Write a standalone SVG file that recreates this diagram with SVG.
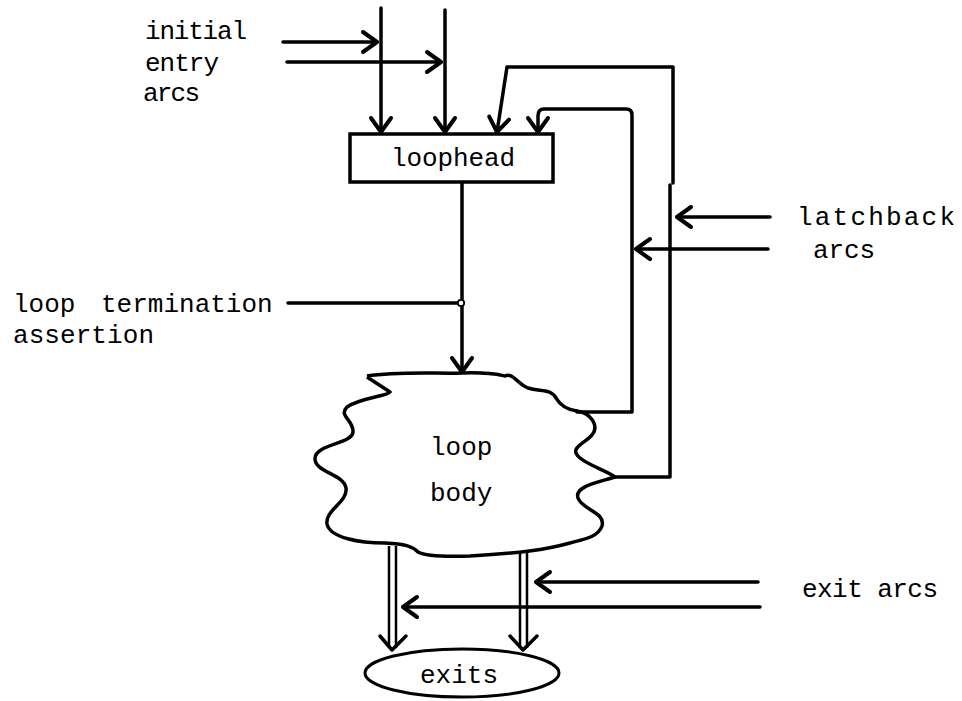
<svg xmlns="http://www.w3.org/2000/svg" width="962" height="701" viewBox="0 0 962 701">
<defs>
<style>
.ln{fill:none;stroke:#000;stroke-width:3.5;stroke-linecap:round;stroke-linejoin:round}
.thin{fill:none;stroke:#000;stroke-width:2.5}
.tx{font-family:"Liberation Mono","DejaVu Sans Mono",monospace;font-size:26px;fill:#000}
</style>
<marker id="ah" markerUnits="userSpaceOnUse" orient="auto" overflow="visible" markerWidth="20" markerHeight="24" refX="0" refY="0">
<path d="M-14,-10 L0,0 L-14,10" fill="none" stroke="#000" stroke-width="4" stroke-linecap="round" stroke-linejoin="round"/>
</marker>
</defs>
<rect width="962" height="701" fill="#fff"/>

<g id="connectors">
<path class="ln" d="M381,8 L381,132" marker-end="url(#ah)"/>
<path class="ln" d="M445,10 L445,132" marker-end="url(#ah)"/>
<path class="ln" d="M283,42 L377,42" marker-end="url(#ah)"/>
<path class="ln" d="M287,62 L441,62" marker-end="url(#ah)"/>
<path class="ln" d="M615,477 L670,477 L670,185 M673,183 L673,67 L507,67 L497,132" marker-end="url(#ah)"/>
<path class="ln" d="M577,412 L632,412 L632,115 Q632,109 626,109 L544,109 Q538,109 538,116 L538,132" marker-end="url(#ah)"/>
<path class="ln" d="M770,217 L677,217" marker-end="url(#ah)"/>
<path class="ln" d="M768,249 L636,249" marker-end="url(#ah)"/>
<path class="ln" d="M462,182 L462,372" marker-end="url(#ah)"/>
<path class="ln" d="M288,303 L458,303"/>
<circle cx="461" cy="303" r="3.2" fill="#fff" stroke="#000" stroke-width="1.8"/>
<path class="thin" d="M389,546 L389,648 M396,546 L396,648"/>
<path class="thin" d="M520,552 L520,648 M527,552 L527,648"/>
<path class="ln" d="M380,636 L392,650 L406,636"/>
<path class="ln" d="M510,636 L523,650 L537,636"/>
<path class="ln" d="M758,582 L536,582" marker-end="url(#ah)"/>
<path class="ln" d="M760,607 L403,607" marker-end="url(#ah)"/>
</g>

<g id="loophead">
<rect x="350" y="134" width="203" height="48" fill="#fff" stroke="#000" stroke-width="3.5"/>
<text class="tx" x="391" y="166" textLength="124">loophead</text>
</g>

<g id="loop-body">
<path fill="none" stroke="#000" stroke-width="3.5" stroke-linejoin="round" d="M367,376 C400,371 440,374 462,373 C490,372 500,375 505,376 C512,372 518,384 528,388 C540,392 550,388 556,398 C562,408 570,410 577,411 C590,413 600,425 592,435 C584,444 568,448 580,458 C590,466 605,470 615,477 C600,482 574,486 578,498 C582,510 606,512 602,526 C598,537 585,539 570,543 C545,550 520,553 470,556 C440,557 425,556 418,552 C412,546 405,544 385,543 C360,543 330,538 327,524 C325,510 348,502 346,488 C344,474 314,472 315,458 C316,444 352,444 353,432 C354,420 338,416 347,407 C360,398 388,396 390,392 L367,377"/>
<text class="tx" x="430" y="455">loop</text>
<text class="tx" x="430" y="501">body</text>
</g>

<g id="exits">
<ellipse cx="462" cy="673" rx="97" ry="24" fill="#fff" stroke="#000" stroke-width="3"/>
<text class="tx" x="420" y="683" textLength="78">exits</text>
</g>

<g id="labels">
<text class="tx" x="145" y="39" textLength="102">initial</text>
<text class="tx" x="145" y="71" textLength="74">entry</text>
<text class="tx" x="143" y="101" textLength="57">arcs</text>
<text class="tx" x="797" y="225" textLength="158">latchback</text>
<text class="tx" x="813" y="258" textLength="62">arcs</text>
<text class="tx" x="13" y="312" word-spacing="10">loop termination</text>
<text class="tx" x="13" y="343" textLength="141">assertion</text>
<text class="tx" x="802" y="597" textLength="136" word-spacing="0">exit arcs</text>
</g>
</svg>
